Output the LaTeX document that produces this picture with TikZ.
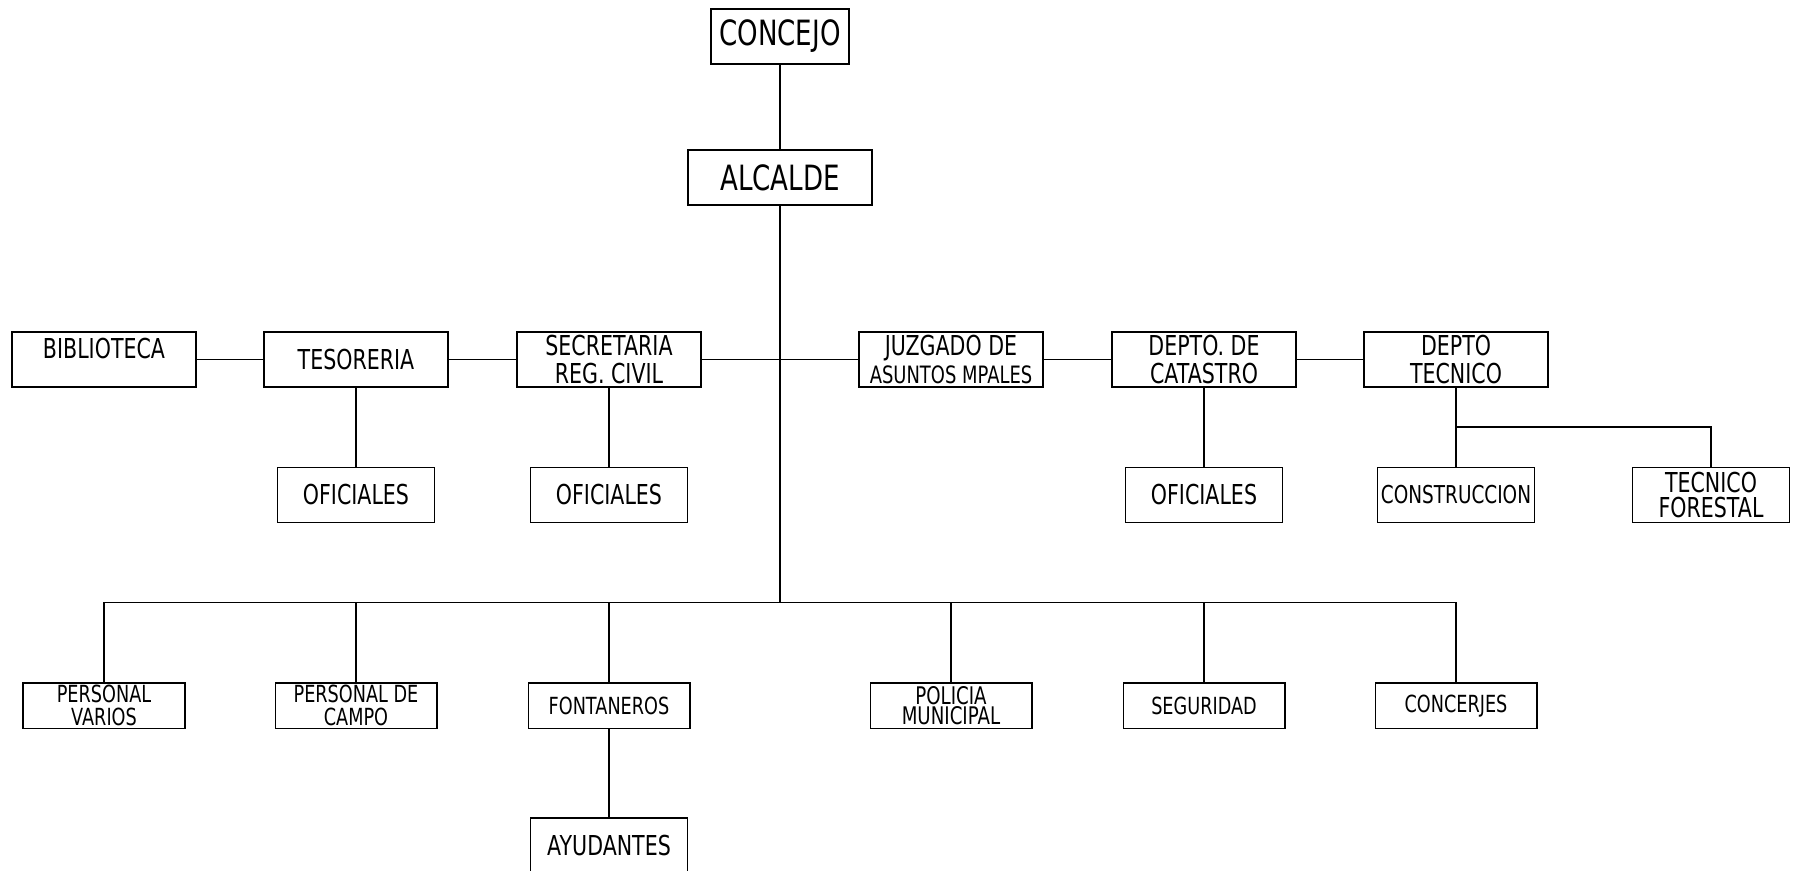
\documentclass[tikz,border=0pt]{standalone}
\usepackage{fontspec}
\setmainfont{DejaVu Sans}[FakeStretch=0.75]

\begin{document}
\begin{tikzpicture}[x=0.01cm,y=-0.01cm,
  box/.style={draw,line width=0.4pt,inner sep=0pt,align=center,minimum width=1.84cm,minimum height=0.55cm,font=\fontsize{7.8}{7.9}\selectfont},
  big/.style={box,font=\fontsize{9.9}{11}\selectfont},
  sub/.style={box,minimum width=1.57cm},
  low/.style={box,minimum width=1.615cm,minimum height=0.455cm,font=\fontsize{6.7}{6.5}\selectfont},
  link/.style={line width=0.4pt}]
  \useasboundingbox (0,0) rectangle (1796,871);
  % top
  \node [big,minimum width=1.38cm] (concejo) at (780,36.5) {CONCEJO};
  \node [big] (alcalde) at (780,177.5) {ALCALDE};
  % second row
  \node [box] (biblio) at (104,359.5) {\raisebox{2.2mm}{BIBLIOTECA}};
  \node [box] (tes) at (356,359.5) {TESORERIA};
  \node [box] (sec) at (609,359.5) {SECRETARIA\\REG. CIVIL};
  \node [box] (juz) at (951,359.5) {JUZGADO DE\\{\fontsize{6.8}{6.8}\selectfont ASUNTOS MPALES}};
  \node [box] (cat) at (1204,359.5) {DEPTO. DE\\CATASTRO};
  \node [box] (tec) at (1456,359.5) {DEPTO\\TECNICO};
  % third row
  \node [sub] (of1) at (356,495) {OFICIALES};
  \node [sub] (of2) at (609,495) {OFICIALES};
  \node [sub] (of3) at (1204,495) {OFICIALES};
  \node [sub,font=\fontsize{7}{7.5}\selectfont] (cons) at (1456,495) {CONSTRUCCION};
  \node [sub,font=\fontsize{7.8}{7.1}\selectfont] (forestal) at (1711,495) {TECNICO\\FORESTAL};
  % bottom row
  \node [low] (pv) at (104,705.7) {PERSONAL\\VARIOS};
  \node [low] (pc) at (356,705.7) {PERSONAL DE\\CAMPO};
  \node [low] (fon) at (609,705.7) {FONTANEROS};
  \node [low,font=\fontsize{6.9}{5.8}\selectfont] (pol) at (951,705.7) {POLICIA\\MUNICIPAL};
  \node [low] (seg) at (1204,705.7) {SEGURIDAD};
  \node [low] (conc) at (1456,705.7) {CONCERJES};
  \node [sub] (ayu) at (609,845.5) {AYUDANTES};
  \coordinate (bus) at (780,602.5);
  \coordinate (fork) at (1456,427);
  \draw [link] (concejo) -- (alcalde);
  \draw [link] (alcalde) -- (bus);
  \draw [link] (biblio) -- (tes) -- (sec) -- (juz) -- (cat) -- (tec);
  \draw [link] (tes) -- (of1);
  \draw [link] (sec) -- (of2);
  \draw [link] (cat) -- (of3);
  \draw [link] (tec) -- (cons);
  \draw [link] (fork) -| (forestal);
  \draw [link] (pv) |- (bus) -| (conc);
  \foreach \n in {pc,fon,pol,seg}
    \draw [link] (\n) -- (\n |- bus);
  \draw [link] (fon) -- (ayu);
\end{tikzpicture}
\end{document}
